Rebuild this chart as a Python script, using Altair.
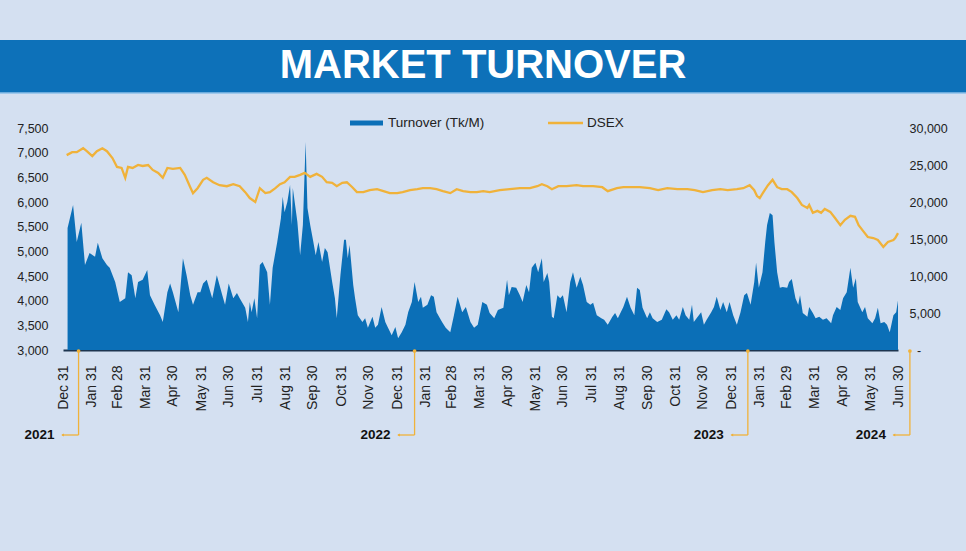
import altair as alt
import pandas as pd

START = pd.Timestamp("2021-12-31")

# Turnover (Tk million) – day offset from 2021-12-31 and value
turn_days = [5, 11, 15, 20, 24, 29, 35, 38, 43, 48, 51, 57, 62, 68, 71, 75, 79, 82, 87, 92, 95, 100, 106, 109,
             114, 117, 120, 126, 131, 135, 139, 142, 147, 150, 153, 157, 163, 168, 174, 177, 181, 186, 190, 193,
             199, 202, 204, 206, 209, 212, 215, 218, 223, 226, 229, 234, 238, 240, 242, 245, 248, 250, 251, 256,
             259, 262, 265, 267, 270, 273, 276, 279, 283, 286, 289, 294, 297, 299, 303, 307, 309, 311, 313, 317,
             319, 322, 327, 330, 333, 338, 341, 344, 348, 352, 355, 359, 363, 366, 370, 374, 377, 381, 384, 388,
             391, 393, 398, 402, 405, 408, 414, 418, 423, 427, 431, 436, 440, 445, 449, 453, 458, 463, 466, 471,
             475, 481, 485, 487, 490, 495, 499, 502, 506, 509, 512, 516, 519, 523, 525, 529, 531, 534, 536, 540,
             543, 546, 550, 554, 557, 561, 565, 568, 572, 576, 579, 583, 588, 591, 595, 600, 603, 606, 612, 616,
             620, 624, 627, 630, 633, 638, 641, 644, 649, 654, 659, 662, 666, 670, 673, 677, 680, 684, 687, 689,
             692, 697, 700, 703, 708, 711, 714, 718, 721, 725, 728, 732, 736, 740, 744, 747, 751, 755, 757, 760,
             764, 767, 769, 772, 775, 777, 780, 783, 786, 791, 793, 796, 800, 803, 805, 808, 813, 815, 819, 822,
             826, 830, 834, 839, 841, 845, 849, 852, 856, 860, 863, 866, 868, 873, 876, 879, 884, 887, 890, 893,
             897, 900, 903, 907, 910, 912]
turn_vals = [16500, 19600, 14600, 17200, 11500, 13100, 12600, 14500, 12400, 11500, 11100, 9200, 6500, 7000, 10500,
             10100, 7000, 9200, 9500, 10800, 7400, 6100, 4700, 3800, 7800, 9000, 7800, 5100, 12400, 10100, 7400,
             6100, 7800, 7800, 9000, 9500, 7000, 10100, 7400, 6100, 9000, 7000, 7700, 7000, 5700, 3800, 6500, 5100,
             7000, 4300, 11500, 11900, 10500, 6100, 11100, 14600, 17800, 20700, 18600, 20000, 22300, 16900, 21900,
             17300, 12800, 16900, 28100, 19200, 16900, 14900, 12800, 14600, 11900, 13800, 13200, 9200, 7000, 4300,
             10100, 14900, 14900, 12400, 14200, 8800, 7000, 4700, 3800, 4300, 3000, 4500, 3000, 3400, 5800, 3800,
             3000, 2000, 3100, 1600, 2400, 3400, 5100, 6500, 9200, 6500, 7200, 5700, 6100, 7400, 7200, 5100, 3800,
             3000, 2400, 4700, 7200, 5100, 5800, 3800, 3000, 3400, 6500, 6100, 5000, 4300, 5400, 5700, 9500, 7400,
             8500, 8400, 7400, 6500, 8800, 7800, 11100, 11800, 10500, 12400, 9200, 10400, 9200, 4500, 4300, 7400,
             7000, 7400, 5100, 9200, 10500, 8400, 9900, 8800, 6500, 6100, 6400, 4700, 4300, 4100, 3400, 4500, 5000,
             4300, 5800, 7200, 5700, 4700, 8400, 8100, 5700, 4300, 5100, 4300, 3800, 4100, 5500, 5100, 4100, 4700,
             4100, 5800, 4700, 4100, 6100, 3800, 4300, 5100, 3400, 4100, 5100, 5800, 7200, 5400, 6500, 5100, 6500,
             4700, 3400, 5100, 7400, 7700, 6100, 9200, 11800, 8400, 10500, 14600, 16900, 18500, 18200, 14600, 10500,
             8400, 8500, 8400, 9200, 9600, 7000, 6100, 7400, 5000, 4500, 5800, 5000, 4300, 4500, 4100, 4300, 3600,
             4700, 5800, 5400, 7000, 7800, 11100, 8400, 9700, 6500, 5100, 5800, 4300, 3600, 4300, 5700, 3600, 3800,
             3400, 2400, 4700, 5100, 6700]

# DSEX index
dsex_days = [4, 10, 15, 22, 26, 32, 37, 43, 48, 54, 59, 64, 68, 71, 76, 82, 87, 93, 98, 104, 109, 114, 120, 128,
             133, 139, 142, 147, 153, 157, 164, 171, 179, 186, 193, 199, 204, 210, 215, 221, 226, 232, 237, 242,
             248, 253, 259, 264, 270, 277, 283, 288, 294, 299, 305, 310, 316, 321, 328, 335, 343, 350, 357, 365,
             371, 379, 387, 393, 401, 408, 415, 423, 430, 437, 445, 452, 459, 466, 477, 488, 499, 510, 518, 523,
             529, 534, 541, 550, 561, 568, 579, 589, 595, 605, 612, 619, 630, 641, 650, 660, 671, 682, 690, 699,
             709, 718, 726, 736, 743, 750, 755, 758, 761, 765, 770, 775, 780, 785, 791, 796, 802, 807, 813, 815,
             819, 824, 828, 832, 838, 843, 849, 854, 860, 865, 869, 874, 879, 885, 890, 896, 901, 907, 909, 912]
dsex_vals = [6950, 7010, 7010, 7090, 7030, 6930, 7030, 7090, 7030, 6890, 6710, 6690, 6490, 6710, 6690, 6750, 6730,
             6750, 6650, 6590, 6490, 6690, 6670, 6690, 6550, 6300, 6180, 6280, 6450, 6490, 6400, 6340, 6320, 6360,
             6320, 6200, 6080, 6000, 6280, 6180, 6200, 6280, 6360, 6400, 6510, 6510, 6550, 6590, 6510, 6570, 6510,
             6400, 6390, 6320, 6390, 6400, 6300, 6200, 6200, 6240, 6260, 6220, 6180, 6180, 6200, 6240, 6260, 6280,
             6280, 6260, 6220, 6180, 6260, 6220, 6200, 6200, 6220, 6200, 6240, 6260, 6280, 6280, 6320, 6360, 6320,
             6260, 6320, 6320, 6340, 6320, 6320, 6300, 6220, 6280, 6300, 6300, 6300, 6280, 6240, 6280, 6260, 6260,
             6240, 6200, 6240, 6260, 6240, 6260, 6280, 6340, 6240, 6120, 6080, 6200, 6340, 6450, 6300, 6260, 6260,
             6200, 6080, 5940, 5880, 5940, 5780, 5820, 5780, 5860, 5800, 5680, 5530, 5640, 5720, 5700, 5530, 5410,
             5290, 5270, 5230, 5090, 5190, 5230, 5270, 5370]

# Year markers below the axis
year_labels = ["2021", "2022", "2023", "2024"]
year_days = [17, 384, 748, 925]

tick_dates = ["2021-12-31", "2022-01-31", "2022-02-28", "2022-03-31", "2022-04-30", "2022-05-31", "2022-06-30",
              "2022-07-31", "2022-08-31", "2022-09-30", "2022-10-31", "2022-11-30", "2022-12-31", "2023-01-31",
              "2023-02-28", "2023-03-31", "2023-04-30", "2023-05-31", "2023-06-30", "2023-07-31", "2023-08-31",
              "2023-09-30", "2023-10-31", "2023-11-30", "2023-12-31", "2024-01-31", "2024-02-29", "2024-03-31",
              "2024-04-30", "2024-05-31", "2024-06-30"]

BG = "#d4e0f1"
BLUE = "#0b6fb7"
BANNER = "#0d71b9"
ORANGE = "#f0b23a"
FONT = "Liberation Sans"


def dt(s):
    t = pd.Timestamp(s)
    return alt.DateTime(year=t.year, month=t.month, date=t.day)


turn_df = pd.DataFrame({"date": START + pd.to_timedelta(turn_days, unit="D"), "turnover": turn_vals})
dsex_df = pd.DataFrame({"date": START + pd.to_timedelta(dsex_days, unit="D"), "dsex": dsex_vals})
yr_df = pd.DataFrame({"date": START + pd.to_timedelta(year_days, unit="D"), "year": year_labels})
yr_df["date_end"] = yr_df["date"] - pd.Timedelta(days=18)

x_scale = alt.Scale(domain=[dt("2021-12-31"), dt("2024-06-30")])
x_axis = alt.Axis(values=[dt(s) for s in tick_dates], format="%b %d", labelAngle=270, labelAlign="right",
                  labelBaseline="middle", labelPadding=15, labelFontSize=14, labelColor="#222222",
                  labelFont=FONT, labelOverlap=False, labelFlush=False, labelBound=False, ticks=False,
                  grid=False, domain=True, domainColor="#1d3550", domainWidth=2, title=None)


def X(field="date:T"):
    return alt.X(field, scale=x_scale, axis=x_axis)


area = alt.Chart(turn_df).mark_area(color=BLUE, opacity=1).encode(
    x=X(),
    y=alt.Y("turnover:Q", scale=alt.Scale(domain=[0, 30000], nice=False),
            axis=alt.Axis(orient="right", values=list(range(5000, 30001, 5000)),
                          labelExpr="format(datum.value, ',')",
                          labelFontSize=12.5, labelColor="#222222", labelFont=FONT, labelPadding=11,
                          labelOverlap=False, labelBound=False,
                          ticks=False, domain=False, grid=False, labelFlush=False, title=None)),
)

line = alt.Chart(dsex_df).mark_line(color=ORANGE, strokeWidth=2.3).encode(
    x=X(),
    y=alt.Y("dsex:Q", scale=alt.Scale(domain=[3000, 7500], nice=False, zero=False),
            axis=alt.Axis(orient="left", values=list(range(3000, 7501, 500)),
                          labelExpr="format(datum.value, ',')", labelOverlap=False,
                          labelFontSize=12.5, labelColor="#222222", labelFont=FONT, labelPadding=15,
                          ticks=False, domain=False, grid=False, labelFlush=False, title=None)),
)

vert = alt.Chart(yr_df).mark_rule(color=ORANGE, strokeWidth=1.3).encode(
    x=X(), y=alt.value(223), y2=alt.value(307))
horiz = alt.Chart(yr_df).mark_rule(color=ORANGE, strokeWidth=1.3).encode(
    x=X(), x2="date_end:T", y=alt.value(307))
knob = alt.Chart(yr_df).mark_point(color=ORANGE, filled=True, size=14, opacity=1).encode(
    x=X(), y=alt.value(223))
arrow = alt.Chart(yr_df).mark_point(shape="triangle-left", color=ORANGE, filled=True, size=10,
                                    opacity=1, xOffset=-16).encode(x=X(), y=alt.value(307))
ylab = alt.Chart(yr_df).mark_text(align="right", baseline="middle", dx=-24, fontSize=13.5,
                                  fontWeight="bold", font=FONT, color="#111111").encode(
    x=X(), y=alt.value(307), text="year:N")

one = pd.DataFrame({"k": [0]})
zero_dash = alt.Chart(one).mark_text(text="-", font=FONT, fontSize=12.5, color="#222222",
                                     align="left", baseline="middle").encode(
    x=alt.value(854), y=alt.value(223))
banner = alt.Chart(one).mark_rect(color=BANNER).encode(
    x=alt.value(-63), x2=alt.value(903), y=alt.value(-88), y2=alt.value(-35))
banner_edge = alt.Chart(one).mark_rule(color="#8cc0ea", strokeWidth=1.5).encode(
    x=alt.value(-63), x2=alt.value(903), y=alt.value(-35))
title = alt.Chart(one).mark_text(text="MARKET TURNOVER", font=FONT, fontSize=40, fontWeight="bold",
                                 color="white", align="center", baseline="middle").encode(
    x=alt.value(420), y=alt.value(-62))

leg_sw1 = alt.Chart(one).mark_rule(color=BLUE, strokeWidth=5).encode(
    x=alt.value(287), x2=alt.value(320), y=alt.value(-5))
leg_t1 = alt.Chart(one).mark_text(text="Turnover (Tk/M)", font=FONT, fontSize=13.5, color="#222222",
                                  align="left", baseline="middle").encode(x=alt.value(325), y=alt.value(-5))
leg_sw2 = alt.Chart(one).mark_rule(color=ORANGE, strokeWidth=2.3).encode(
    x=alt.value(485), x2=alt.value(520), y=alt.value(-5))
leg_t2 = alt.Chart(one).mark_text(text="DSEX", font=FONT, fontSize=13.5, color="#222222",
                                  align="left", baseline="middle").encode(x=alt.value(524), y=alt.value(-5))

chart = alt.layer(
    area, line, vert, horiz, knob, arrow, ylab, zero_dash, banner, banner_edge, title,
    leg_sw1, leg_t1, leg_sw2, leg_t2
).resolve_scale(y="independent").properties(
    width=835, height=222,
    autosize=alt.AutoSizeParams(type="none"),
    padding={"left": 63, "top": 128, "right": 68, "bottom": 201},
    background=BG,
).configure_view(stroke=None)

chart.save("out.html", embed_options={"renderer": "svg", "actions": False})
